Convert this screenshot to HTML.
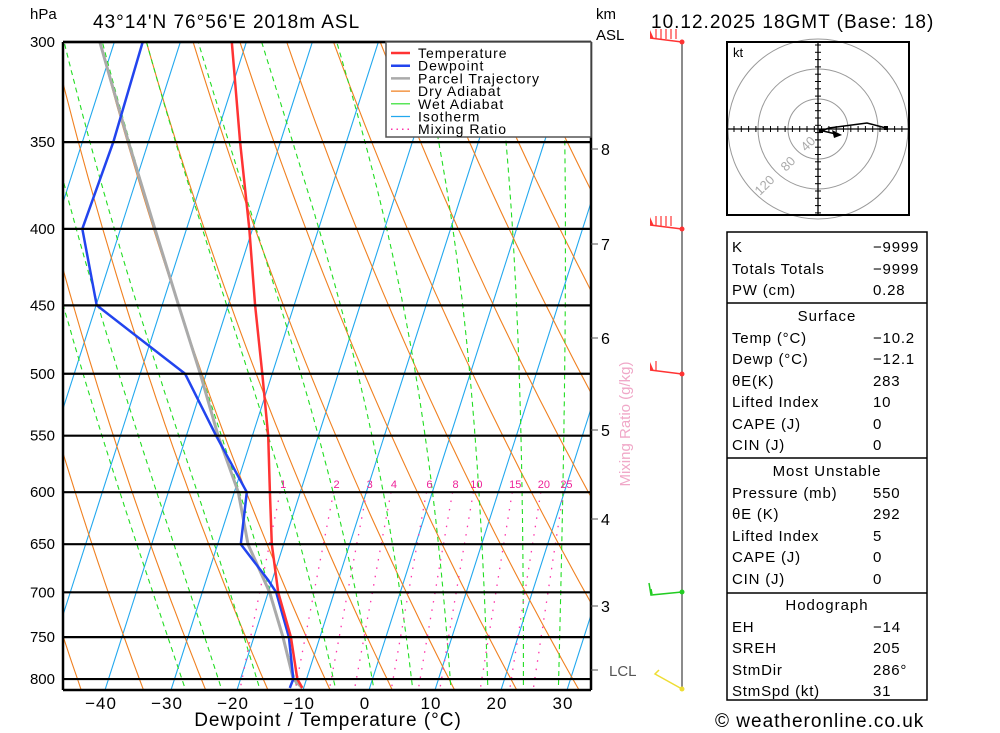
<!DOCTYPE html>
<html><head><meta charset="utf-8"><style>
body{margin:0;background:#fff;}
svg{display:block;font-family:"Liberation Sans",sans-serif;}
</style></head><body>
<svg id="c" width="1000" height="733" viewBox="0 0 1000 733">
<defs><clipPath id="pc"><rect x="63" y="42" width="528" height="648"/></clipPath></defs>
<g id="bg" clip-path="url(#pc)"></g>
<g id="series" clip-path="url(#pc)"></g>
<g id="frame"></g>
<text x="30" y="19" font-size="15">hPa</text>
<text x="93" y="28" font-size="19" letter-spacing="1">43°14'N 76°56'E 2018m ASL</text>
<text x="596" y="19" font-size="15">km</text>
<text x="596" y="40" font-size="15">ASL</text>
<text x="651" y="28" font-size="19" letter-spacing="1">10.12.2025 18GMT (Base: 18)</text>
<text x="328" y="726" font-size="19" text-anchor="middle" letter-spacing="1">Dewpoint / Temperature (°C)</text>
<text x="715" y="727" font-size="19" letter-spacing="1">© weatheronline.co.uk</text>
<text transform="translate(630,424) rotate(-90)" font-size="15" text-anchor="middle" fill="#f0a8c8">Mixing Ratio (g/kg)</text>
<g>
<rect x="386" y="42" width="205" height="95" fill="#fff" stroke="#555" stroke-width="1.5"/>
</g>
<g id="legend"></g>
<g id="hodo"></g>
<g id="table"></g>
<g id="wind"></g>
</svg>
<script>
const pressures=[300,350,400,450,500,550,600,650,700,750,800,811];
const tempValues=[-52.2,-46.1,-40.5,-35.9,-31.5,-27.6,-24.6,-21.8,-18.5,-14.4,-11.4,-10.2];
const dewPressures=[300,350,400,450,500,550,600,650,687,700,750,800,811];
const dewValues=[-65.7,-65.3,-65.8,-59.9,-43.2,-35.5,-28.1,-26.5,-20.6,-18.8,-14.7,-12.0,-12.1];
const parcelValues=[-72.2,-63.0,-54.8,-47.5,-40.9,-35.2,-29.4,-25.4,-19.8,-15.6,-12.0,-10.2];
const pressureTicks=[300,350,400,450,500,550,600,650,700,750,800];
const tempTicks=[-40,-30,-20,-10,0,10,20,30];
const mixingRatios=[1,2,3,4,6,8,10,15,20,25];
const wetStartTemps=[-28,-22.5,-16.7,-11,-5.2,0.6,6.5,12.3,17.9,23.3,28.6,33.9];
const kmTicks=[8,7,6,5,4,3];
const kmY=[149,244,338,430,519,606];
const tableRows=[["K","-9999"],["Totals Totals","-9999"],["PW (cm)","0.28"],["#Surface",""],["Temp (°C)","-10.2"],["Dewp (°C)","-12.1"],["θE(K)","283"],["Lifted Index","10"],["CAPE (J)","0"],["CIN (J)","0"],["#Most Unstable",""],["Pressure (mb)","550"],["θE (K)","292"],["Lifted Index","5"],["CAPE (J)","0"],["CIN (J)","0"],["#Hodograph",""],["EH","-14"],["SREH","205"],["StmDir","286°"],["StmSpd (kt)","31"]];

const NS="http://www.w3.org/2000/svg";
const Y0=42,YB=690,PB=811;
function py(p){return 42+649.5*Math.log(p/300);}
function tx(t,p){const y=py(p);return 369+6.6*t+0.32*(YB-y);}
function mk(tag,attrs,parent){const e=document.createElementNS(NS,tag);for(const k in attrs)e.setAttribute(k,attrs[k]);parent.appendChild(e);return e;}
const bg=document.getElementById('bg'),ser=document.getElementById('series'),fr=document.getElementById('frame');
function pathFrom(pts){return pts.map((q,i)=>(i?'L':'M')+q[0].toFixed(1)+','+q[1].toFixed(1)).join('');}
// isotherms
for(let t=-110;t<=50;t+=10){
  const e=mk('line',{x1:tx(t,830),y1:py(830),x2:tx(t,290),y2:py(290),stroke:'#22a8ee','stroke-width':1.1},bg);
  
  
}
// dry adiabats
for(let th=183.5;th<=523.5;th+=10){
  const pts=[];for(let p=290;p<=830;p+=10){pts.push([tx(th*Math.pow(p/1000,0.286)-273.15,p),py(p)]);}
  const e=mk('path',{d:pathFrom(pts),fill:'none',stroke:'#f08020','stroke-width':1.1},bg);
  
  
}
// wet adiabats
function es(t){return 6.112*Math.exp(17.67*t/(t+243.5));}
function dTdp(T,p){const Tk=T+273.15;const rs=0.622*es(T)/(p-es(T));const Rd=287,Lv=2.5e6,cp=1005;
 return (Rd*Tk+Lv*rs)/(p*(cp+Lv*Lv*rs*0.622/(Rd*Tk*Tk)));}
for(const t0 of wetStartTemps){
  let T=t0,pts=[[tx(T,PB),py(PB)]];
  for(let p=PB;p>285;p-=1){T-=dTdp(T,p)*1;pts.push([tx(T,p-1),py(p-1)]);}
  T=t0;const low=[];for(let p=PB;p<830;p+=1){T+=dTdp(T,p);low.push([tx(T,p+1),py(p+1)]);}
  const e=mk('path',{d:pathFrom(low.reverse().concat(pts)),fill:'none',stroke:'#22dd22','stroke-width':1.1,'stroke-dasharray':'5,4'},bg);
  
  
}
// mixing ratio
for(const w of mixingRatios){
  const pts=[];for(let p=600;p<=830;p+=10){const e=w*p/(622+w);const l=Math.log(e/6.112);pts.push([tx(243.5*l/(17.67-l),p),py(p)]);}
  const e=mk('path',{d:pathFrom(pts),fill:'none',stroke:'#ff33aa','stroke-width':1.3,'stroke-dasharray':'1.5,7'},bg);
  
  
  const l0=Math.log(w*600/(622+w)/6.112);
  const lb=mk('text',{x:tx(243.5*l0/(17.67-l0),600)+3,y:488,'font-size':11,fill:'#ee2299','text-anchor':'middle'},fr);
  lb.textContent=w;
  
  
}
// series
function drawSeries(ps,vals,color,w,name){
  const e=mk('path',{d:pathFrom(ps.map((p,i)=>[tx(vals[i],p),py(p)])),fill:'none',stroke:color,'stroke-width':w,'stroke-linejoin':'round'},ser);
  
  
}
drawSeries(pressures,parcelValues,'#aaaaaa',3,'parcel-trajectory-line');
drawSeries(dewPressures,dewValues,'#2244ee',2.5,'dewpoint-line');
drawSeries(pressures,tempValues,'#ff3333',2.5,'temperature-line');
// frame
for(const p of pressureTicks){
  const y=py(p);
  const l=mk('line',{x1:63,y1:y,x2:591,y2:y,stroke:'#000','stroke-width':2.2},fr);
  
  
  const t=mk('text',{x:55,y:y+5,'font-size':15,'text-anchor':'end'},fr);t.textContent=p;
  
  
}
mk('line',{x1:63,y1:42,x2:591,y2:42,stroke:'#000','stroke-width':2.5},fr);
mk('line',{x1:63,y1:690,x2:591,y2:690,stroke:'#000','stroke-width':2.5},fr);
mk('line',{x1:63,y1:42,x2:63,y2:690,stroke:'#000','stroke-width':2.5},fr);
mk('line',{x1:591,y1:42,x2:591,y2:690,stroke:'#000','stroke-width':2.5},fr);
for(const t of tempTicks){
  const x=369+6.6*t-4;
  const e=mk('text',{x:x,y:709,'font-size':17,'text-anchor':'middle','letter-spacing':1},fr);e.textContent=(t<0?'−':'')+Math.abs(t);
  
  
}
kmTicks.forEach((k,i)=>{
  mk('line',{x1:591,y1:kmY[i],x2:598,y2:kmY[i],stroke:'#555'},fr);
  const e=mk('text',{x:601,y:kmY[i]+6,'font-size':16},fr);e.textContent=k;
  
  
});
mk('line',{x1:591,y1:670,x2:598,y2:670,stroke:'#555'},fr);
{const e=mk('text',{x:609,y:676,'font-size':15,fill:'#555'},fr);e.textContent='LCL';

}
// legend
const leg=document.getElementById('legend');
[["Temperature","#ff3333",2.5,''],["Dewpoint","#2244ee",2.5,''],["Parcel Trajectory","#aaaaaa",2.5,''],["Dry Adiabat","#f08020",1.2,''],["Wet Adiabat","#22dd22",1.2,''],["Isotherm","#22a8ee",1.2,''],["Mixing Ratio","#ff33aa",1.5,'1.5,4']].forEach((r,i)=>{
  const y=53+12.7*i;
  mk('line',{x1:391,y1:y,x2:410,y2:y,stroke:r[1],'stroke-width':r[2],'stroke-dasharray':r[3]||'none'},leg);
  const t=mk('text',{x:418,y:y+5,'font-size':14,'letter-spacing':1},leg);t.textContent=r[0];
  
  
});
// wind column
const wd=document.getElementById('wind');
mk('line',{x1:682,y1:42,x2:682,y2:690,stroke:'#666','stroke-width':1.5},wd);
function barb(y,col,n){
  mk('line',{x1:650,y1:y-4,x2:682,y2:y,stroke:col,'stroke-width':1.5},wd);
  mk('polygon',{points:`650,${y-4} 650,${y-12} 654,${y-3}`,fill:col},wd);
  for(let i=0;i<n;i++){const x=656+i*5;mk('line',{x1:x,y1:y-3,x2:x,y2:y-13,stroke:col,'stroke-width':1.2},wd);}
  mk('circle',{cx:682,cy:y,r:2.5,fill:col},wd);
}
barb(42,'#ff3333',5);barb(229,'#ff3333',4);barb(374,'#ff3333',1);
mk('polyline',{points:'682,592 651,595 649,583',fill:'none',stroke:'#22cc22','stroke-width':1.5},wd);
mk('line',{x1:652,y1:594,x2:651,y2:589,stroke:'#22cc22','stroke-width':1.5},wd);
mk('circle',{cx:682,cy:592,r:2.5,fill:'#22cc22'},wd);
mk('polyline',{points:'682,689 655,674 659,670',fill:'none',stroke:'#eedd33','stroke-width':1.5},wd);
mk('circle',{cx:682,cy:689,r:2.5,fill:'#eedd33'},wd);
// hodograph
const h=document.getElementById('hodo');
mk('rect',{x:727,y:42,width:182,height:173,fill:'#fff',stroke:'#000','stroke-width':2},h);
const hc=[818,129];
[30,60,90].forEach(r=>mk('circle',{cx:hc[0],cy:hc[1],r:r,fill:'none',stroke:'#999','stroke-width':1},h));
mk('rect',{x:727,y:42,width:182,height:173,fill:'none',stroke:'#000','stroke-width':2},h);
mk('line',{x1:728,y1:129,x2:908,y2:129,stroke:'#000','stroke-width':1.3},h);
mk('line',{x1:818,y1:43,x2:818,y2:214,stroke:'#000','stroke-width':1.3},h);
for(let d=-84;d<=84;d+=7.3){mk('line',{x1:hc[0]+d,y1:126,x2:hc[0]+d,y2:132,stroke:'#000'},h);mk('line',{x1:815,y1:hc[1]+d,x2:821,y2:hc[1]+d,stroke:'#000'},h);}
{const t=mk('text',{x:733,y:57,'font-size':13},h);t.textContent='kt';}
[['40',806,152],['80',786,172],['120',760,196]].forEach(a=>{const t=mk('text',{x:a[1],y:a[2],'font-size':13,fill:'#aaa',transform:`rotate(-45 ${a[1]} ${a[2]})`},h);t.textContent=a[0];});
mk('polyline',{points:'821,131 829,128 867,123 886,128',fill:'none',stroke:'#000','stroke-width':1.5},h);
mk('line',{x1:823,y1:131,x2:836,y2:134,stroke:'#000','stroke-width':1.5},h);
mk('polygon',{points:'842,135 832,130 834,138',fill:'#000'},h);
mk('rect',{x:884,y:126,width:4,height:4,fill:'#000'},h);
mk('rect',{x:819,y:129,width:4,height:4,fill:'#000'},h);
// table
const tb=document.getElementById('table');
mk('rect',{x:727,y:232,width:200,height:468,fill:'#fff',stroke:'#000','stroke-width':1.5},tb);
[303,458,593].forEach(y=>mk('line',{x1:727,y1:y,x2:927,y2:y,stroke:'#000','stroke-width':1.5},tb));
const rowY=[246,268,289,315,337,358,380,401,423,444,470,492,513,535,556,578,604,626,647,669,690];
tableRows.forEach((r,i)=>{
  const y=rowY[i]+6;
  if(r[0][0]==='#'){const t=mk('text',{x:827,y:y,'font-size':15,'text-anchor':'middle','letter-spacing':1},tb);t.textContent=r[0].slice(1);
    
    return;}
  const a=mk('text',{x:732,y:y,'font-size':15,'letter-spacing':0.8},tb);a.textContent=r[0];
  
  
  const b=mk('text',{x:873,y:y,'font-size':15,'letter-spacing':0.8},tb);b.textContent=r[1].replace('-','−');
  
  
});
</script>
</body></html>
